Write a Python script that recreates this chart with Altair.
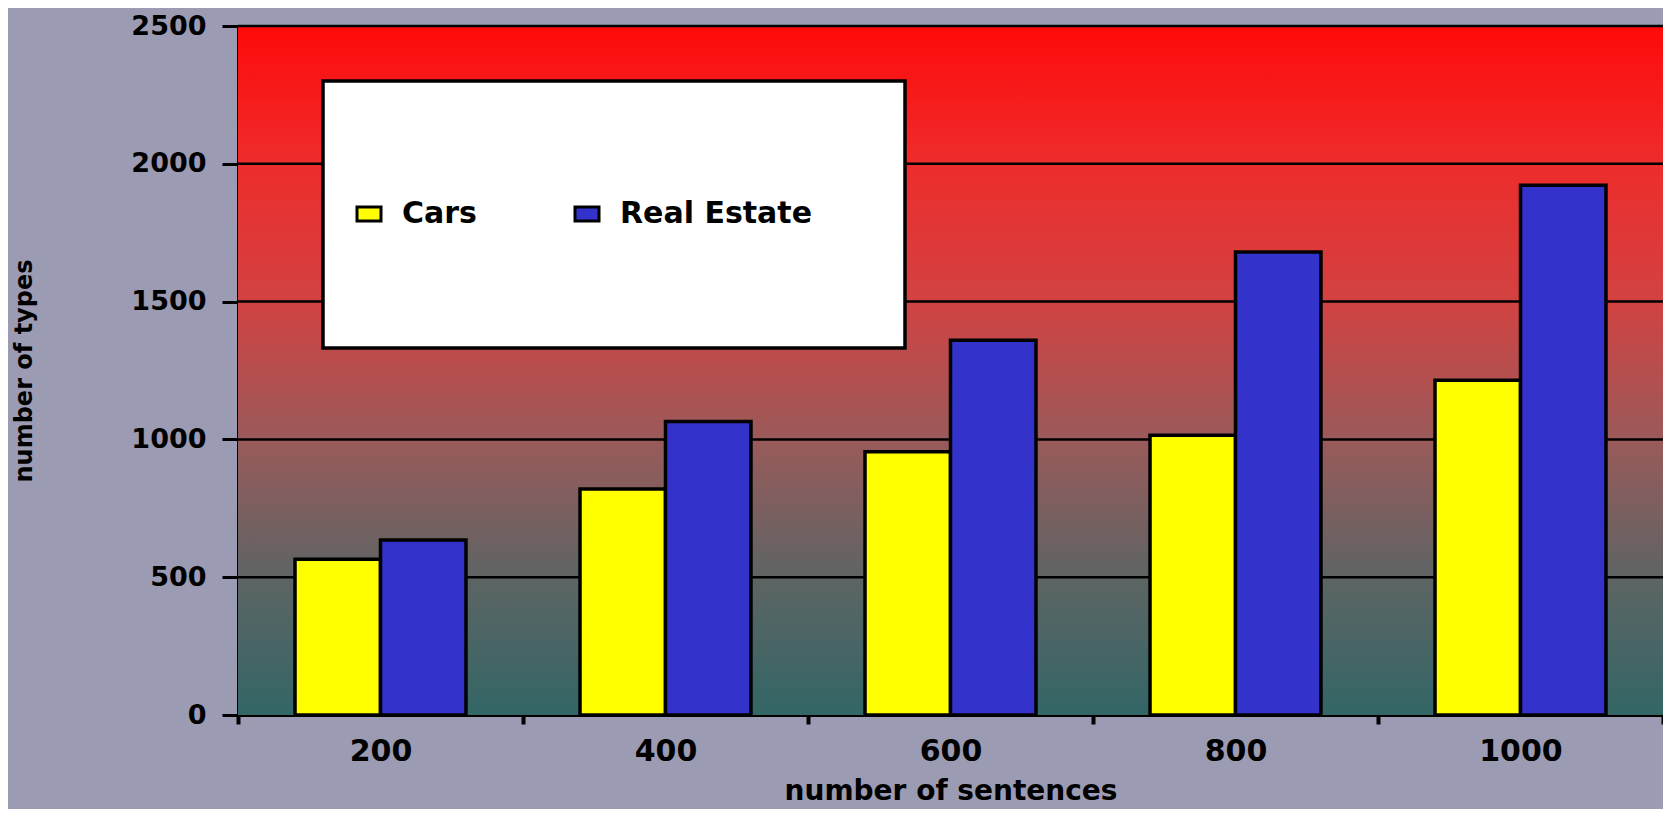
import altair as alt
import pandas as pd

categories = ["200", "400", "600", "800", "1000"]
series_names = ["Cars", "Real Estate"]
cars = [565, 820, 955, 1015, 1215]
real_estate = [635, 1065, 1360, 1680, 1922]
y_ticks = [0, 500, 1000, 1500, 2000, 2500]
grid_values = [500, 1000, 1500, 2000, 2500]
series_colors = ["#FFFF00", "#3333CC"]

W = 1425
H = 689
FONT = "DejaVu Sans"

rows = []
for i, c in enumerate(categories):
    rows.append({"n": c, "series": "Cars", "v": cars[i]})
    rows.append({"n": c, "series": "Real Estate", "v": real_estate[i]})
df = pd.DataFrame(rows)

yscale = alt.Scale(domain=[0, 2500], nice=False, zero=True)

yaxis = alt.Axis(
    title="number of types",
    values=y_ticks,
    format="d",
    labelFont=FONT, labelFontWeight="bold", labelFontSize=27, labelColor="black",
    labelPadding=16,
    tickSize=16, tickWidth=3, tickColor="black",
    domainColor="black", domainWidth=3,
    titleFont=FONT, titleFontWeight="bold", titleFontSize=24, titleColor="black",
    titleX=-214, titleY=H / 2, titleAngle=270, titleAlign="center", titleBaseline="middle",
    grid=False,
)

gradient = alt.LinearGradient(
    gradient="linear",
    x1=0, x2=0, y1=0, y2=1,
    stops=[
        alt.GradientStop(offset=0.0, color="#FF0A0A"),
        alt.GradientStop(offset=0.2, color="#EE2C2C"),
        alt.GradientStop(offset=0.4, color="#D24242"),
        alt.GradientStop(offset=0.6, color="#9A5A5A"),
        alt.GradientStop(offset=0.8, color="#5E6464"),
        alt.GradientStop(offset=1.0, color="#336666"),
    ],
)

bg = alt.Chart(pd.DataFrame({"a": [0]})).mark_rect(color=gradient, strokeWidth=0).encode(
    x=alt.value(0), x2=alt.value(W), y=alt.value(0), y2=alt.value(H)
)

grid = alt.Chart(pd.DataFrame({"g": grid_values})).mark_rule(color="black", strokeWidth=2.5).encode(
    y=alt.Y("g:Q", scale=yscale, axis=yaxis)
)

bars = alt.Chart(df).mark_bar(stroke="black", strokeWidth=3.5, opacity=1).encode(
    x=alt.X(
        "n:N",
        sort=categories,
        scale=alt.Scale(paddingInner=0, paddingOuter=0),
        axis=alt.Axis(
            title="number of sentences",
            labelAngle=0,
            labelFont=FONT, labelFontWeight="bold", labelFontSize=30, labelColor="black",
            labelPadding=12,
            tickBand="extent", tickSize=9, tickWidth=4, tickColor="black",
            domainColor="black", domainWidth=3,
            titleFont=FONT, titleFontWeight="bold", titleFontSize=28, titleColor="black",
            titleY=76, titleBaseline="middle",
            grid=False,
        ),
    ),
    xOffset=alt.XOffset(
        "series:N", sort=series_names,
        scale=alt.Scale(paddingInner=0, paddingOuter=0.667),
    ),
    y=alt.Y("v:Q", scale=yscale, axis=yaxis),
    color=alt.Color(
        "series:N",
        sort=series_names,
        scale=alt.Scale(domain=series_names, range=series_colors),
        legend=alt.Legend(
            title=None,
            orient="none",
            legendX=116,
            legendY=173,
            direction="horizontal",
            symbolType="M-1,-0.58H1V0.58H-1Z",
            symbolSize=576,
            symbolStrokeColor="black",
            symbolStrokeWidth=3,
            symbolOpacity=1,
            labelFont=FONT, labelFontWeight="bold", labelFontSize=30, labelColor="black",
            labelOffset=18,
            columnPadding=92,
            labelLimit=500,
            padding=0,
        ),
    ),
)

legend_box = alt.Chart(pd.DataFrame({"a": [0]})).mark_rect(
    fill="white", stroke="black", strokeWidth=3.5
).encode(x=alt.value(85), x2=alt.value(667), y=alt.value(55), y2=alt.value(322))

chart = alt.layer(bg, grid, bars, legend_box).properties(
    width=W,
    height=H,
    background="#9B9BB3",
    padding={"left": 230, "top": 18, "right": 0, "bottom": 94},
    autosize=alt.AutoSizeParams(type="none"),
).configure_view(stroke=None)

chart.save("out.html", embed_options={"renderer": "svg", "actions": False})
